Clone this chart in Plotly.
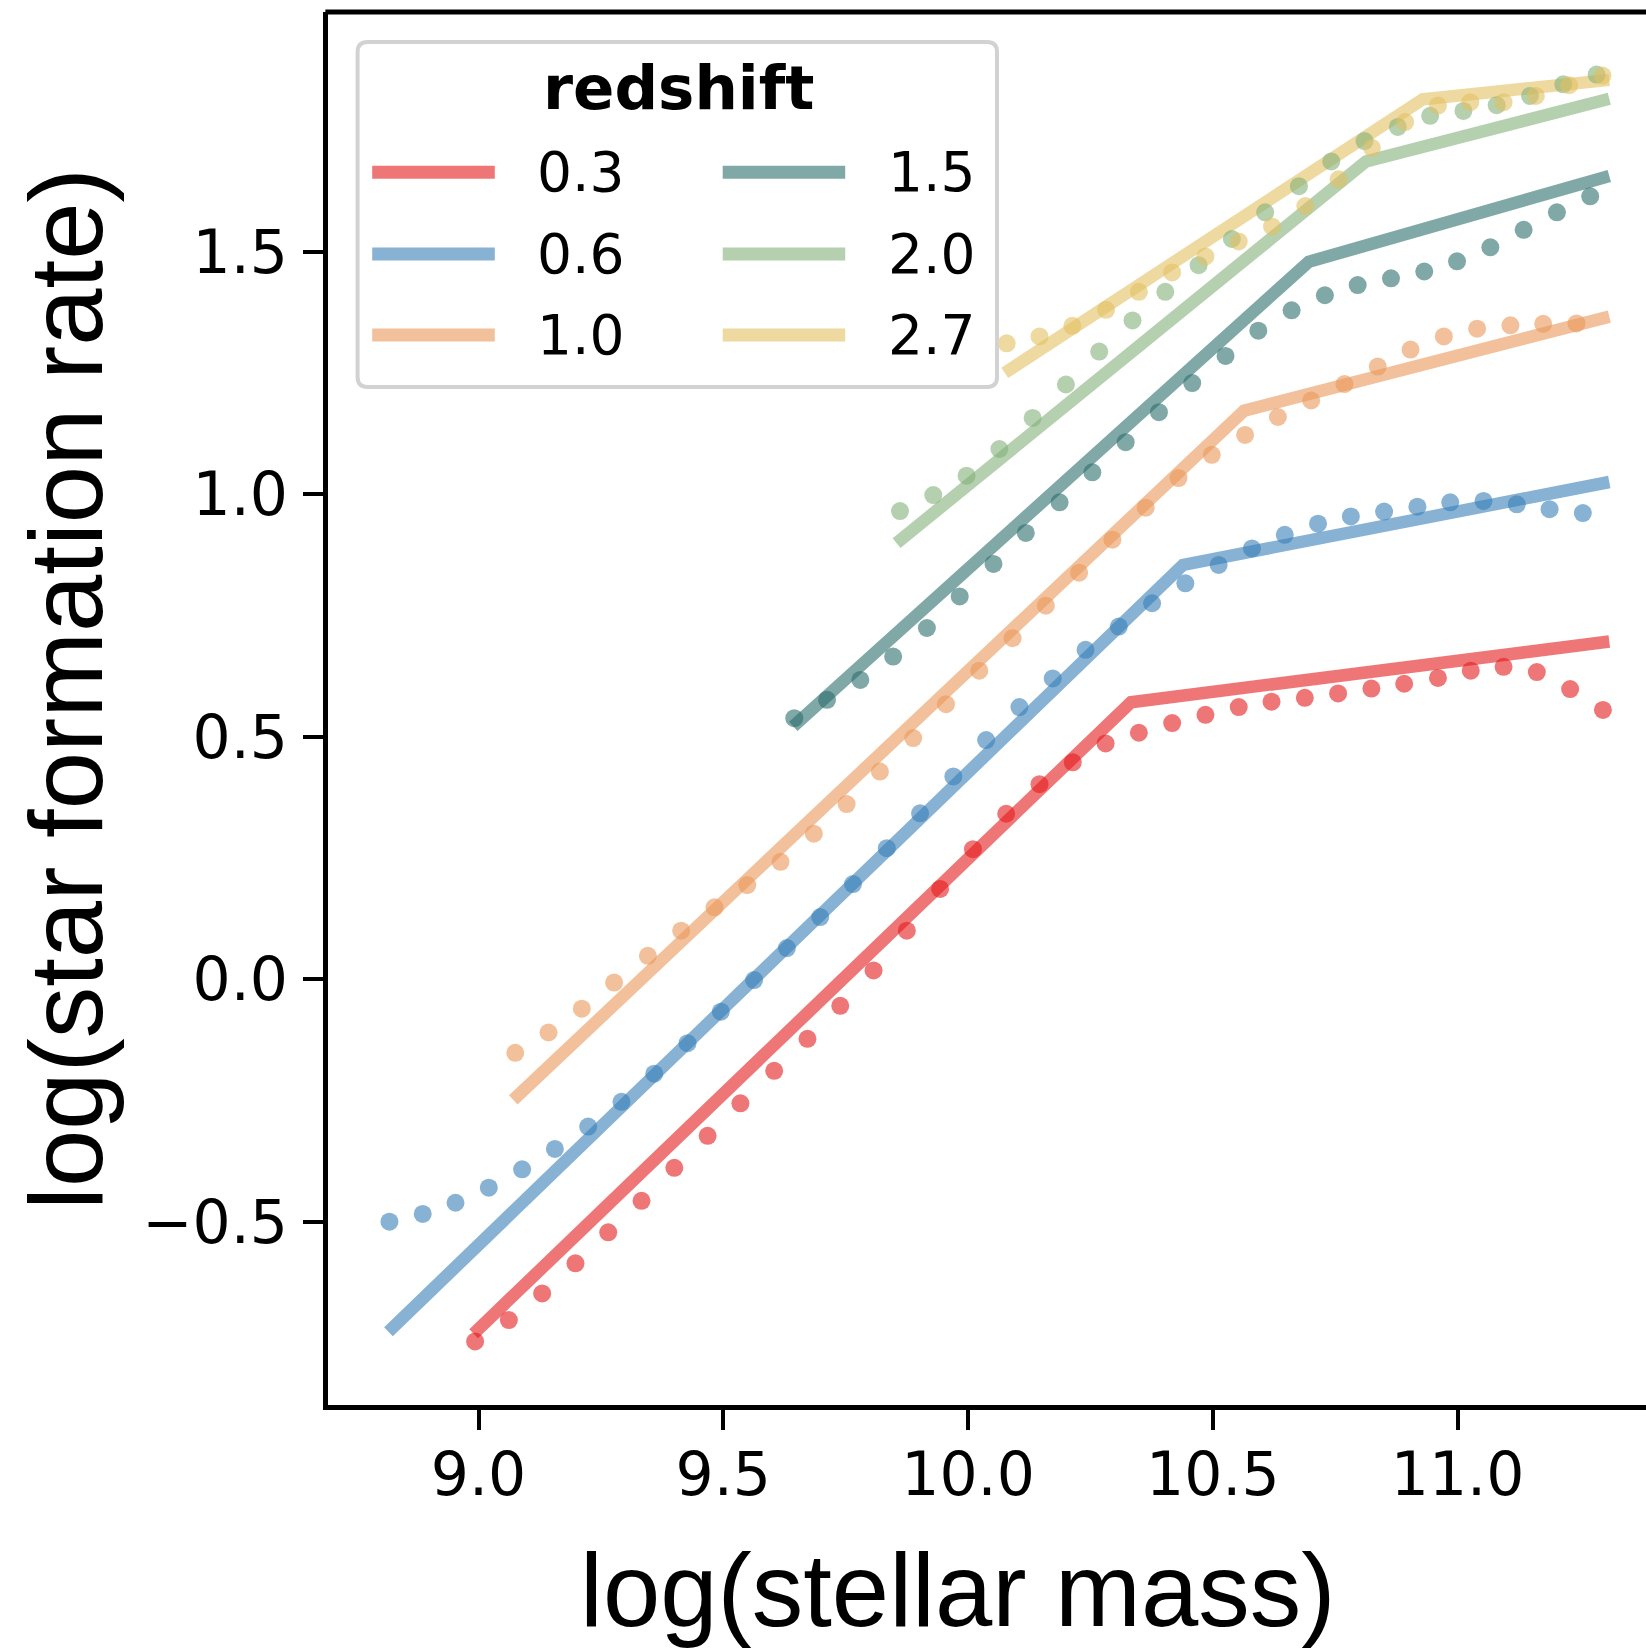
import plotly.graph_objects as go

# ---------------- data ----------------
redshifts = ["0.3", "0.6", "1.0", "1.5", "2.0", "2.7"]
colors = ["rgba(228,26,28,0.6)", "rgba(55,126,184,0.6)", "rgba(233,152,88,0.6)",
          "rgba(42,110,108,0.6)", "rgba(130,177,120,0.6)", "rgba(227,192,97,0.6)"]

mass_03 = [8.993, 9.062, 9.130, 9.198, 9.265, 9.333, 9.400, 9.468, 9.535, 9.604, 9.672, 9.739,
           9.807, 9.875, 9.943, 10.010, 10.078, 10.146, 10.214, 10.281, 10.349, 10.417, 10.485,
           10.553, 10.620, 10.688, 10.756, 10.824, 10.891, 10.960, 11.027, 11.094, 11.162, 11.230, 11.297]
sfr_03 = [-0.747, -0.703, -0.648, -0.586, -0.522, -0.457, -0.389, -0.323, -0.256, -0.189, -0.123, -0.055,
          0.018, 0.100, 0.186, 0.268, 0.341, 0.402, 0.447, 0.486, 0.508, 0.528, 0.545,
          0.561, 0.572, 0.580, 0.589, 0.599, 0.609, 0.621, 0.636, 0.644, 0.633, 0.598, 0.555]

mass_06 = [8.818, 8.886, 8.953, 9.021, 9.089, 9.156, 9.224, 9.292, 9.359, 9.427, 9.495, 9.563, 9.630,
           9.698, 9.765, 9.834, 9.902, 9.970, 10.037, 10.105, 10.173, 10.240, 10.308, 10.376, 10.444,
           10.512, 10.580, 10.647, 10.715, 10.782, 10.850, 10.918, 10.985, 11.053, 11.121, 11.188, 11.256]
sfr_06 = [-0.500, -0.484, -0.461, -0.430, -0.392, -0.350, -0.304, -0.253, -0.195, -0.132, -0.067, -0.002, 0.064,
          0.128, 0.196, 0.270, 0.342, 0.418, 0.493, 0.561, 0.620, 0.679, 0.727, 0.775, 0.816,
          0.854, 0.888, 0.916, 0.939, 0.954, 0.964, 0.974, 0.983, 0.986, 0.979, 0.969, 0.961]

mass_10 = [9.075, 9.143, 9.211, 9.277, 9.346, 9.414, 9.482, 9.549, 9.617, 9.685, 9.752, 9.820, 9.888,
           9.955, 10.023, 10.091, 10.159, 10.227, 10.295, 10.363, 10.430, 10.498, 10.566, 10.633,
           10.701, 10.769, 10.837, 10.904, 10.972, 11.040, 11.108, 11.175, 11.243]
sfr_10 = [-0.152, -0.110, -0.061, -0.007, 0.048, 0.100, 0.148, 0.194, 0.242, 0.300, 0.361, 0.428, 0.497,
          0.567, 0.636, 0.703, 0.770, 0.838, 0.906, 0.972, 1.033, 1.081, 1.122, 1.159,
          1.193, 1.227, 1.263, 1.298, 1.325, 1.341, 1.348, 1.351, 1.352]

mass_15 = [9.645, 9.712, 9.780, 9.847, 9.916, 9.983, 10.052, 10.118, 10.187, 10.254, 10.322, 10.390,
           10.458, 10.526, 10.593, 10.661, 10.729, 10.796, 10.864, 10.932, 10.999, 11.067, 11.135, 11.203, 11.271]
sfr_15 = [0.538, 0.576, 0.617, 0.665, 0.724, 0.789, 0.856, 0.920, 0.983, 1.045, 1.107, 1.169,
          1.229, 1.285, 1.337, 1.379, 1.410, 1.431, 1.445, 1.459, 1.480, 1.509, 1.545, 1.581, 1.614]

mass_20 = [9.861, 9.929, 9.997, 10.064, 10.132, 10.200, 10.268, 10.336, 10.403, 10.471, 10.539,
           10.607, 10.676, 10.742, 10.810, 10.878, 10.944, 11.012, 11.080, 11.148, 11.216, 11.284]
sfr_20 = [0.965, 0.998, 1.038, 1.093, 1.157, 1.226, 1.294, 1.358, 1.417, 1.472, 1.526,
          1.581, 1.635, 1.686, 1.728, 1.757, 1.780, 1.790, 1.802, 1.821, 1.845, 1.865]

mass_27 = [10.079, 10.146, 10.213, 10.282, 10.349, 10.417, 10.485, 10.553, 10.621, 10.689,
           10.757, 10.825, 10.893, 10.960, 11.026, 11.094, 11.160, 11.228, 11.296]
sfr_27 = [1.311, 1.325, 1.347, 1.380, 1.417, 1.457, 1.490, 1.521, 1.552, 1.594,
          1.649, 1.714, 1.767, 1.801, 1.808, 1.808, 1.821, 1.843, 1.863]

# broken power-law fits: start, knee, end
fit_mass_03 = [8.990, 10.333, 11.310]
fit_sfr_03 = [-0.731, 0.571, 0.696]
fit_mass_06 = [8.816, 10.439, 11.310]
fit_sfr_06 = [-0.727, 0.854, 1.025]
fit_mass_10 = [9.071, 10.564, 11.310]
fit_sfr_10 = [-0.249, 1.172, 1.366]
fit_mass_15 = [9.643, 10.696, 11.310]
fit_sfr_15 = [0.521, 1.479, 1.656]
fit_mass_20 = [9.854, 10.813, 11.310]
fit_sfr_20 = [0.899, 1.686, 1.815]
fit_mass_27 = [10.075, 10.929, 11.310]
fit_sfr_27 = [1.250, 1.814, 1.854]

x_ticks = [9.0, 9.5, 10.0, 10.5, 11.0]
y_ticks = [-0.5, 0.0, 0.5, 1.0, 1.5]
x_title = "log(stellar mass)"
y_title = "log(star formation rate)"
legend_title = "redshift"

points = [(mass_03, sfr_03), (mass_06, sfr_06), (mass_10, sfr_10),
          (mass_15, sfr_15), (mass_20, sfr_20), (mass_27, sfr_27)]
fits = [(fit_mass_03, fit_sfr_03), (fit_mass_06, fit_sfr_06), (fit_mass_10, fit_sfr_10),
        (fit_mass_15, fit_sfr_15), (fit_mass_20, fit_sfr_20), (fit_mass_27, fit_sfr_27)]

# ---------------- figure ----------------
W, H = 1646, 1649
L, R, T, B = 328, 0, 12, 244

fig = go.Figure()
for name, col, (fx, fy) in zip(redshifts, colors, fits):
    fig.add_trace(go.Scatter(x=fx, y=fy, mode="lines", name=name, showlegend=False,
                             line=dict(color=col, width=12.5)))
for name, col, (px, py) in zip(redshifts, colors, points):
    fig.add_trace(go.Scatter(x=px, y=py, mode="markers", name=name, showlegend=False,
                             marker=dict(color=col, size=18, line=dict(width=0))))


def fmt(v):
    s = f"{v:.1f}"
    return s.replace("-", "\u2212")


TICKFONT = dict(family="DejaVu Sans", size=60, color="black")
fig.update_layout(
    width=W, height=H,
    margin=dict(l=L, r=R, t=T, b=B, pad=0),
    paper_bgcolor="white", plot_bgcolor="white",
    showlegend=False,
    xaxis=dict(range=[8.6925, 11.385], tickvals=x_ticks, ticktext=[fmt(v) for v in x_ticks],
               showline=True, linewidth=5, linecolor="black", mirror=False,
               ticks="outside", ticklen=20, tickwidth=3.5, tickcolor="black",
               ticklabelstandoff=-7,
               showgrid=False, zeroline=False, tickfont=TICKFONT),
    yaxis=dict(range=[-0.878, 1.994], tickvals=y_ticks, ticktext=[fmt(v) for v in y_ticks],
               showline=True, linewidth=5, linecolor="black", mirror=False,
               ticks="outside", ticklen=20, tickwidth=3.5, tickcolor="black",
               ticklabelstandoff=3,
               showgrid=False, zeroline=False, tickfont=TICKFONT),
)

PW, PH = W - L - R, H - T - B


def px2x(p):
    return (p - L) / PW


def px2y(p):
    return (H - B - p) / PH


shapes = []
# top spine
shapes.append(dict(type="line", xref="paper", yref="paper", x0=-0.002, x1=1.0, y0=1, y1=1,
                   line=dict(color="black", width=5), layer="above"))

# legend frame (rounded rectangle)
lx0, lx1, ly0, ly1, rr = 357.6, 997.0, 42.0, 387.0, 10.0
path = (f"M {px2x(lx0 + rr)},{px2y(ly0)} L {px2x(lx1 - rr)},{px2y(ly0)} "
        f"Q {px2x(lx1)},{px2y(ly0)} {px2x(lx1)},{px2y(ly0 + rr)} "
        f"L {px2x(lx1)},{px2y(ly1 - rr)} Q {px2x(lx1)},{px2y(ly1)} {px2x(lx1 - rr)},{px2y(ly1)} "
        f"L {px2x(lx0 + rr)},{px2y(ly1)} Q {px2x(lx0)},{px2y(ly1)} {px2x(lx0)},{px2y(ly1 - rr)} "
        f"L {px2x(lx0)},{px2y(ly0 + rr)} Q {px2x(lx0)},{px2y(ly0)} {px2x(lx0 + rr)},{px2y(ly0)} Z")
shapes.append(dict(type="path", xref="paper", yref="paper", path=path,
                   fillcolor="white", line=dict(color="#D2D2D2", width=4), layer="above"))

TITLEFONT = dict(family="Liberation Sans", size=103, color="black")
annotations = [
    dict(text=x_title, xref="paper", yref="paper", x=px2x(958), y=px2y(1590),
         xanchor="center", yanchor="middle", showarrow=False, font=TITLEFONT),
    dict(text=y_title, xref="paper", yref="paper", x=px2x(66), y=px2y(689), textangle=-90,
         xanchor="center", yanchor="middle", showarrow=False, font=TITLEFONT),
    dict(text=f"<b>{legend_title}</b>", xref="paper", yref="paper", x=px2x(678), y=px2y(88),
         xanchor="center", yanchor="middle", showarrow=False,
         font=dict(family="DejaVu Sans", size=61, color="black")),
]

row_y = [172.3, 254.0, 335.0]
col_line = [(372.2, 494.8), (722.7, 845.2)]
col_text = [534.6, 886.0]
for i, (name, col) in enumerate(zip(redshifts, colors)):
    c, r = divmod(i, 3)
    yy = px2y(row_y[r])
    shapes.append(dict(type="line", xref="paper", yref="paper",
                       x0=px2x(col_line[c][0]), x1=px2x(col_line[c][1]), y0=yy, y1=yy,
                       line=dict(color=col, width=13), layer="above"))
    annotations.append(dict(text=name, xref="paper", yref="paper", x=px2x(col_text[c]), y=yy,
                            xanchor="left", yanchor="middle", showarrow=False,
                            font=dict(family="DejaVu Sans", size=55, color="black")))

fig.update_layout(shapes=shapes, annotations=annotations)
fig.write_html("out.html")
